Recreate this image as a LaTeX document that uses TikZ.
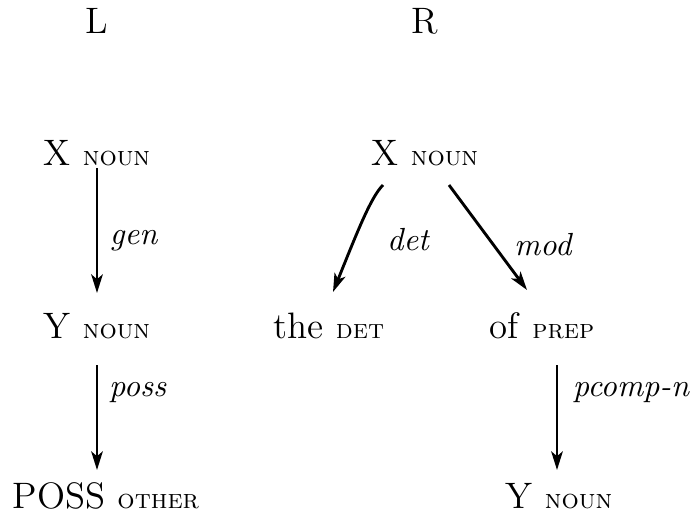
\documentclass[tikz,border=0pt]{standalone}
\usetikzlibrary{arrows.meta,calc}
\newcommand{\tagsc}[1]{{\fontsize{8.5}{10}\selectfont\textsc{#1}}}
\begin{document}
\begin{tikzpicture}[x=0.3125pt,y=-0.3125pt,
  word/.style={inner sep=0pt,anchor=base,font=\fontsize{11.5}{14}\selectfont},
  lab/.style={inner sep=0pt,font=\itshape,anchor=west},
  arr/.style={line width=0.9pt,-{Stealth[length=5.8pt,width=3.6pt,inset=1.5pt]}}]
\useasboundingbox (0,0) rectangle (692,525);
\node[word] (hl) at (97,33) {L};
\node[word] (hr) at (425,33) {R};
\node[word] (lx) at (97,165) {X \tagsc{noun}};
\node[word] (ly) at (97,338) {Y \tagsc{noun}};
\node[word] (lp) at (106,508) {POSS \tagsc{other}};
\node[word] (rx) at (425,165) {X \tagsc{noun}};
\node[word] (td) at (329,338) {the \tagsc{det}};
\node[word] (op) at (542,338) {of \tagsc{prep}};
\node[word] (ry) at (559,508) {Y \tagsc{noun}};
\draw[arr] ($(lx.base)+(0,3)$) -- node[lab,pos=0.58,xshift=3.6pt] {gen} ($(ly.base)+(0,-45)$);
\draw[arr] ($(ly.base)+(0,27)$) -- node[lab,pos=0.26,xshift=3.3pt] {poss} ($(ly.base)+(0,132)$);
\draw[arr] ($(rx.base)+(-42,20)$) .. controls +(-12,12) and +(25,-62) .. node[lab,pos=0.62,xshift=9pt,yshift=-2pt] {det} ($(td.base)+(4,-46)$);
\draw[arr] ($(rx.base)+(24,20)$) -- node[lab,pos=0.57,xshift=6pt] {mod} ($(op.base)+(-15,-48)$);
\draw[arr] ($(ry.base)+(-2,-143)$) -- node[lab,pos=0.26,xshift=4.5pt] {pcomp-n} ($(ry.base)+(-2,-38)$);
\end{tikzpicture}
\end{document}
